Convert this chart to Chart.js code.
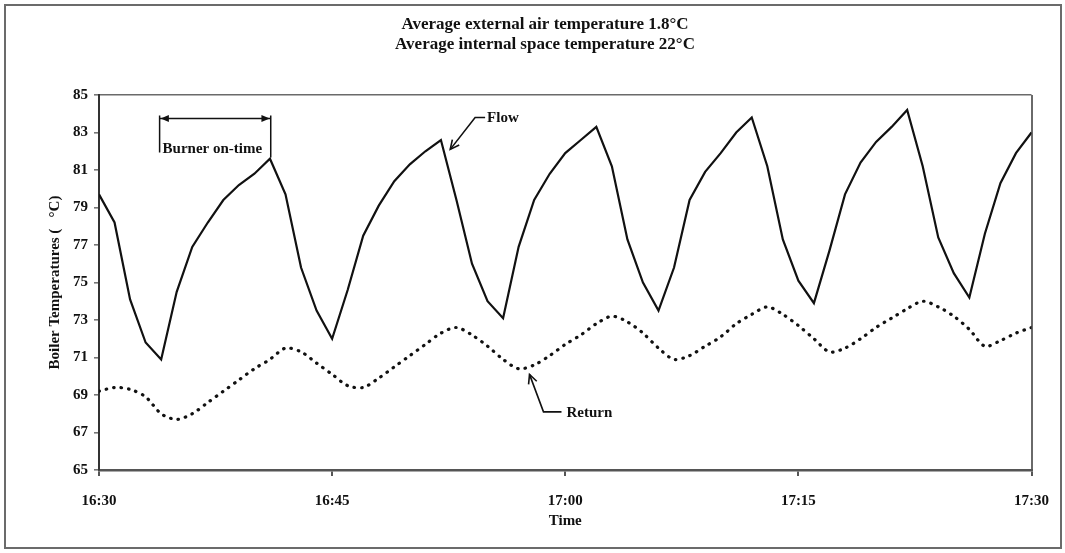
<!DOCTYPE html>
<html>
<head>
<meta charset="utf-8">
<title>Boiler temperatures</title>
<script src="https://cdn.jsdelivr.net/npm/chart.js@4.4.1/dist/chart.umd.min.js"></script>
<style>
  html, body { margin: 0; padding: 0; background: #fff; }
</style>
</head>
<body>
<canvas id="chart" width="1065" height="553"></canvas>
<script>
// minutes after 16:30
const minutes = [
  0, 1, 2, 3, 4, 5, 6, 7, 8, 9,
  10, 11, 12, 13, 14, 15, 16, 17, 18, 19,
  20, 21, 22, 23, 24, 25, 26, 27, 28, 29,
  30, 31, 32, 33, 34, 35, 36, 37, 38, 39,
  40, 41, 42, 43, 44, 45, 46, 47, 48, 49,
  50, 51, 52, 53, 54, 55, 56, 57, 58, 59, 60
];

const flowTemps = [
  79.7, 78.2, 74.1, 71.8, 70.9, 74.5, 76.9, 78.2, 79.4, 80.2,
  80.8, 81.6, 79.7, 75.8, 73.5, 72.0, 74.6, 77.5, 79.1, 80.4,
  81.3, 82.0, 82.6, 79.4, 76.0, 74.0, 73.1, 76.9, 79.4, 80.8,
  81.9, 82.6, 83.3, 81.2, 77.3, 75.0, 73.5, 75.8, 79.4, 80.9,
  81.9, 83.0, 83.8, 81.2, 77.3, 75.1, 73.9, 76.7, 79.7, 81.4,
  82.5, 83.3, 84.2, 81.2, 77.4, 75.5, 74.2, 77.6, 80.3, 81.9, 83.0
];

const returnTemps = [
  69.2, 69.4, 69.3, 68.9, 68.0, 67.7, 68.0, 68.6, 69.2, 69.8,
  70.4, 70.9, 71.5, 71.3, 70.7, 70.1, 69.5, 69.4, 69.9, 70.5,
  71.1, 71.7, 72.3, 72.6, 72.2, 71.6, 70.9, 70.4, 70.6, 71.1,
  71.7, 72.2, 72.8, 73.2, 72.9, 72.3, 71.5, 70.9, 71.1, 71.6,
  72.1, 72.8, 73.3, 73.7, 73.3, 72.7, 72.0, 71.3, 71.5, 72.0,
  72.6, 73.1, 73.6, 74.0, 73.7, 73.2, 72.5, 71.6, 71.9, 72.3, 72.6
];

const titleLines = [
  'Average external air temperature 1.8°C',
  'Average internal space temperature 22°C'
];

const startClock = 16 * 60 + 30;

// callouts, in data units (minutes, °C)
const pointerNotes = [
  { text: 'Flow', tip: [22.6, 82.1], elbow: [24.2, 83.8], stub: 10, gap: 2 },
  { text: 'Return', tip: [27.7, 70.1], elbow: [28.6, 68.1], stub: 18, gap: 5 }
];
const burnerSpan = { text: 'Burner on-time', from: 3.9, to: 11.05, level: 83.75 };

const FONT = '"Liberation Serif", "DejaVu Serif", serif';

function clockLabel(v) {
  const t = startClock + v;
  const h = Math.floor(t / 60);
  const m = t % 60;
  return h + ':' + (m < 10 ? '0' + m : m);
}

function openHead(ctx, fx, fy, tx, ty, size) {
  const a = Math.atan2(ty - fy, tx - fx);
  ctx.beginPath();
  ctx.moveTo(tx - size * Math.cos(a - 0.45), ty - size * Math.sin(a - 0.45));
  ctx.lineTo(tx, ty);
  ctx.lineTo(tx - size * Math.cos(a + 0.45), ty - size * Math.sin(a + 0.45));
  ctx.stroke();
}

function solidHead(ctx, fx, fy, tx, ty, size) {
  const a = Math.atan2(ty - fy, tx - fx);
  ctx.beginPath();
  ctx.moveTo(tx, ty);
  ctx.lineTo(tx - size * Math.cos(a - 0.4), ty - size * Math.sin(a - 0.4));
  ctx.lineTo(tx - size * Math.cos(a + 0.4), ty - size * Math.sin(a + 0.4));
  ctx.closePath();
  ctx.fill();
}

const notesPlugin = {
  id: 'notes',
  beforeDraw(chart) {
    const ctx = chart.ctx;
    ctx.save();
    ctx.fillStyle = '#fff';
    ctx.fillRect(0, 0, chart.width, chart.height);
    ctx.strokeStyle = '#6b6b6b';
    ctx.lineWidth = 2;
    ctx.strokeRect(5, 5, chart.width - 9, chart.height - 10);
    ctx.restore();
  },
  afterDraw(chart) {
    const { ctx, scales: { x, y } } = chart;
    ctx.save();
    ctx.fillStyle = '#111';
    ctx.strokeStyle = '#111';

    // two line heading
    ctx.font = 'bold 17px ' + FONT;
    ctx.textAlign = 'center';
    ctx.textBaseline = 'middle';
    titleLines.forEach((line, i) => ctx.fillText(line, 545, 25 + i * 20));

    // Flow / Return pointers
    ctx.font = 'bold 15px ' + FONT;
    ctx.textAlign = 'left';
    ctx.lineWidth = 1.6;
    pointerNotes.forEach(n => {
      const tx = x.getPixelForValue(n.tip[0]);
      const ty = y.getPixelForValue(n.tip[1]);
      const ex = x.getPixelForValue(n.elbow[0]);
      const ey = y.getPixelForValue(n.elbow[1]);
      ctx.beginPath();
      ctx.moveTo(ex + n.stub, ey);
      ctx.lineTo(ex, ey);
      ctx.lineTo(tx, ty);
      ctx.stroke();
      openHead(ctx, ex, ey, tx, ty, 10);
      ctx.fillText(n.text, ex + n.stub + n.gap, ey + 1);
    });

    // burner on-time bracket
    const bx1 = x.getPixelForValue(burnerSpan.from);
    const bx2 = x.getPixelForValue(burnerSpan.to);
    const by = y.getPixelForValue(burnerSpan.level);
    ctx.lineWidth = 1.5;
    ctx.beginPath();
    ctx.moveTo(bx1, by);
    ctx.lineTo(bx2, by);
    ctx.moveTo(bx1, by - 3);
    ctx.lineTo(bx1, by + 34);
    ctx.moveTo(bx2, by - 3);
    ctx.lineTo(bx2, by + 39);
    ctx.stroke();
    solidHead(ctx, bx2, by, bx1 + 1, by, 9);
    solidHead(ctx, bx1, by, bx2 - 1, by, 9);
    ctx.fillText(burnerSpan.text, bx1 + 3, by + 31);

    ctx.restore();
  }
};

const tickFont = { family: FONT, size: 15, weight: 'bold' };

new Chart(document.getElementById('chart'), {
  type: 'line',
  data: {
    labels: minutes,
    datasets: [
      {
        label: 'Flow',
        data: flowTemps,
        borderColor: '#111',
        borderWidth: 2.2,
        pointRadius: 0,
        tension: 0,
        fill: false
      },
      {
        label: 'Return',
        data: returnTemps,
        borderColor: '#111',
        borderWidth: 3.2,
        borderDash: [0.5, 7],
        borderCapStyle: 'round',
        pointRadius: 0,
        tension: 0.3,
        fill: false
      }
    ]
  },
  options: {
    responsive: false,
    animation: false,
    devicePixelRatio: 1,
    layout: { padding: { top: 95, left: 10, right: 27, bottom: 5 } },
    plugins: {
      legend: { display: false },
      tooltip: { enabled: false }
    },
    scales: {
      x: {
        type: 'linear',
        min: 0,
        max: 60,
        ticks: {
          stepSize: 15,
          autoSkip: false,
          maxRotation: 0,
          color: '#111',
          font: tickFont,
          padding: 16,
          callback: v => clockLabel(v)
        },
        grid: {
          color: c => (c.tick && c.tick.value === 60 ? '#6a6a6a' : 'rgba(0,0,0,0)'),
          lineWidth: 2,
          tickLength: 6,
          tickColor: '#555'
        },
        border: { color: '#555', width: 2.5 },
        title: {
          display: true,
          text: 'Time',
          color: '#111',
          font: { family: FONT, size: 15, weight: 'bold' },
          padding: { top: 0, bottom: 18 }
        },
        afterFit: s => { s.height = 78; }
      },
      y: {
        min: 65,
        max: 85,
        ticks: {
          stepSize: 2,
          color: '#111',
          font: tickFont,
          padding: 6
        },
        grid: {
          color: c => (c.tick && c.tick.value === 85 ? '#6a6a6a' : 'rgba(0,0,0,0)'),
          lineWidth: 1.6,
          tickLength: 5,
          tickColor: '#777'
        },
        border: { color: '#333', width: 2 },
        title: {
          display: true,
          text: 'Boiler Temperatures (   °C)',
          color: '#111',
          font: { family: FONT, size: 15, weight: 'bold' },
          padding: { top: 36, bottom: 0 }
        },
        afterFit: s => { s.width = 89; }
      }
    }
  },
  plugins: [notesPlugin]
});
</script>
</body>
</html>
